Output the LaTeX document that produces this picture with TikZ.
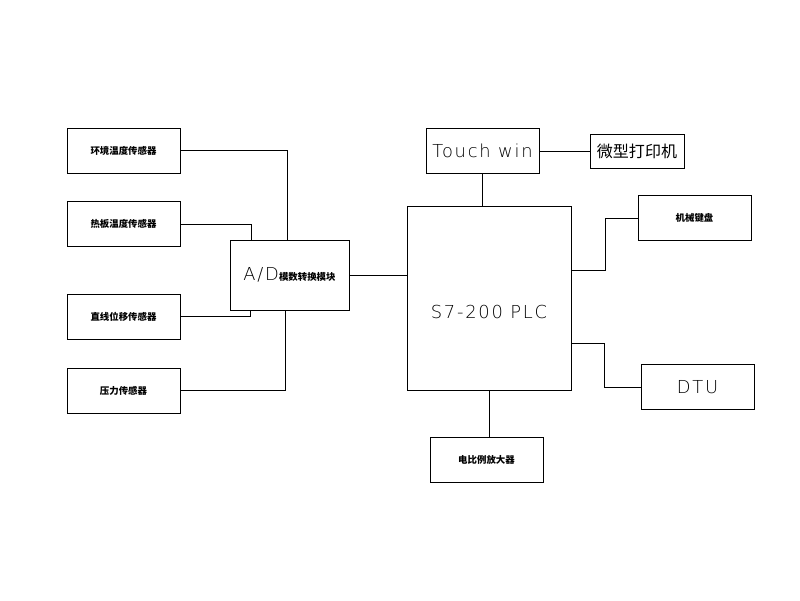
\documentclass[tikz,border=0pt]{standalone}
\usepackage{fontspec}
\newfontfamily\cjk{Noto Sans CJK SC}
\newfontfamily\cad[LetterSpace=10]{DejaVu Sans ExtraLight}

\begin{document}
\begin{tikzpicture}[x=0.025cm,y=-0.025cm,line width=0.6pt,
  box/.style={draw,minimum width=2.825cm,minimum height=1.125cm,inner sep=0pt},
  zh/.style={font=\cjk\bfseries\fontsize{6.7pt}{8pt}\selectfont},
  en/.style={font=\cad\fontsize{12.7pt}{14pt}\selectfont}]
\useasboundingbox (0,0) rectangle (800,600);
% sensors on the left
\node[box,zh] (s1) at (123.5,150.5) {环境温度传感器};
\node[box,zh] (s2) at (123.5,224) {热板温度传感器};
\node[box,zh] (s3) at (123.5,316.5) {直线位移传感器};
\node[box,zh] (s4) at (123.5,390.5) {压力传感器};
% converter and controller
\node[box,minimum width=2.975cm,minimum height=1.75cm] (ad) at (289.5,275)
  {{\cad\fontsize{12.7pt}{14pt}\selectfont A/D}{\cjk\bfseries\fontsize{6.7pt}{8pt}\selectfont 模数转换模块}};
\node[box,en,minimum width=4.1cm,minimum height=4.6cm,text height=1.025cm,text depth=0pt]
  (plc) at (489,298) {S7-200 PLC};
% peripherals
\node[box,en] (tw) at (482.5,151) {Touch win};
\node[box,minimum width=2.35cm,minimum height=0.85cm,font=\cjk\fontsize{11.4pt}{13pt}\selectfont]
  (pr) at (637,151) {微型打印机};
\node[box,zh] (kb) at (694.5,218) {机械键盘};
\node[box,en] (dtu) at (697.5,387) {DTU};
\node[box,zh] (amp) at (486.5,459.5) {电比例放大器};
% wiring
\draw (s1.east) -| ([xshift=-0.04cm]ad.north);
\draw (s2.east) -| ([xshift=0.55cm]ad.north west);
\draw (s3.east) -| ([xshift=0.525cm]ad.south west);
\draw (s4.east) -| ([xshift=-0.09cm]ad.south);
\draw (ad.east) -- (ad.east -| plc.west);
\draw (tw.south) -- (tw.south |- plc.north);
\draw (tw.east) -- (tw.east -| pr.west);
\draw ([yshift=0.7cm]plc.east) -- ++(34,0) |- (kb.west);
\draw ([yshift=-1.125cm]plc.east) -- ++(33,0) |- (dtu.west);
\draw (plc.south) -- (plc.south |- amp.north);
\end{tikzpicture}
\end{document}
